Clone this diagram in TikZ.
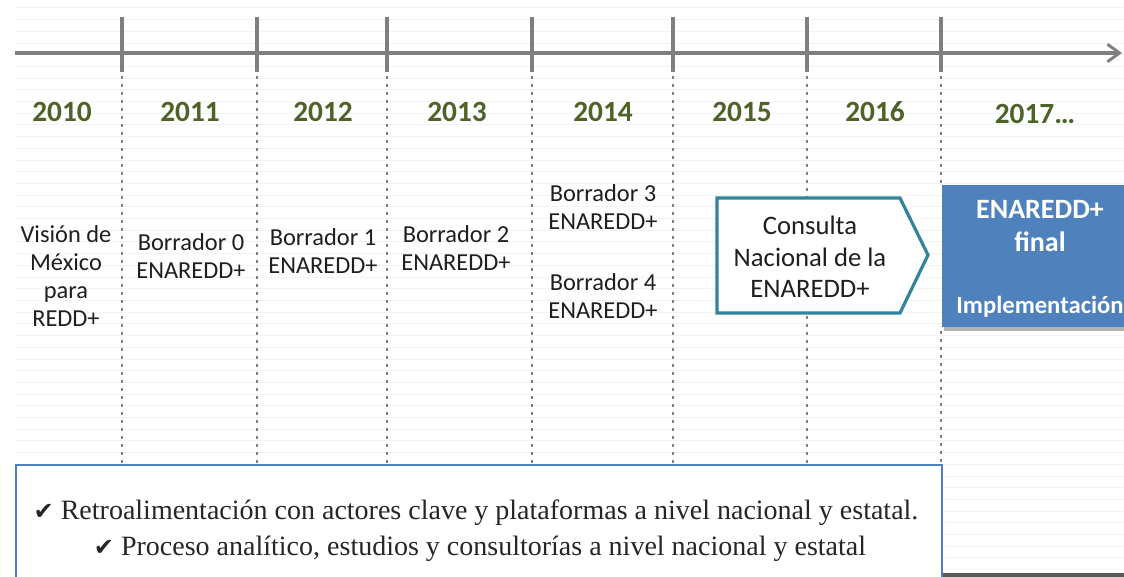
\documentclass[tikz,border=0pt]{standalone}
\usepackage{fontspec}
\setmainfont{Carlito}
\newfontfamily\serifbody{Liberation Serif}
\newfontfamily\symfont{DejaVu Sans}
\usetikzlibrary{arrows.meta}
\definecolor{axisgray}{HTML}{7F7F7F}
\definecolor{yeargreen}{HTML}{4F6228}
\definecolor{consteal}{HTML}{31849B}
\definecolor{boxblue}{HTML}{4F81BD}
\definecolor{bgline}{HTML}{F3F3F3}
\begin{document}
\begin{tikzpicture}[x=0.75pt,y=-0.75pt,
  bgrule/.style={bgline, line width=0.75pt},
  axisline/.style={axisgray, line width=2.4pt},
  dotline/.style={axisgray, line width=2.2pt, dash pattern=on 2.2pt off 3.8pt},
  year/.style={font=\fontsize{22}{26}\selectfont\bfseries, text=yeargreen, inner sep=0pt},
  lbl/.style={font=\fontsize{18.3}{21}\selectfont, align=center, text=black!88, inner sep=0pt},
  bluetxt/.style={font=\fontsize{21}{25}\selectfont\bfseries, text=white, inner sep=0pt},
  bottomtxt/.style={font=\serifbody\fontsize{21}{25}\selectfont, text=black!85, inner sep=0pt, anchor=base}
]
\useasboundingbox (0,0) rectangle (1124,577);
\clip (0,0) rectangle (1124,577);
\fill[white] (0,0) rectangle (1124,577);

% faint background rules
\foreach \i in {0,...,48}
  \draw[bgrule] (15,{8+\i*11.7}) -- (1124,{8+\i*11.7});

% axis
\coordinate (axL) at (15,53);
\coordinate (axR) at (1122,53);
\draw[axisline, -{Straight Barb[length=9pt,width=13pt,line width=2.2pt]}] (axL) -- (axR);

% ticks and dotted separators
\foreach \x in {122,257,387,532,673,807,941}
  \draw[axisline] (\x,17) -- (\x,72);
\foreach \x in {122,257,387,532,673,807}
  \draw[dotline] (\x,76) -- (\x,465);
\draw[dotline] (941,76) -- (941,185);
\draw[dotline] (941,331) -- (941,577);

% years
\node[year] (y2010) at (62,112) {2010};
\node[year] (y2011) at (190,112) {2011};
\node[year] (y2012) at (323,112) {2012};
\node[year] (y2013) at (457,112) {2013};
\node[year] (y2014) at (603,112) {2014};
\node[year] (y2015) at (742,112) {2015};
\node[year] (y2016) at (875,112) {2016};
\node[year] (y2017) at (1035,114) {2017…};

% labels
\node[lbl] (vision) at (66,276) {Visión de\\México\\para\\REDD+};
\node[lbl] (b0) at (191,256) {Borrador 0\\ENAREDD+};
\node[lbl] (b1) at (323,251) {Borrador 1\\ENAREDD+};
\node[lbl] (b2) at (456,248) {Borrador 2\\ENAREDD+};
\node[lbl] (b3) at (603,207) {Borrador 3\\ENAREDD+};
\node[lbl] (b4) at (603,296) {Borrador 4\\ENAREDD+};

% consulta pentagon
\draw[consteal, line width=2.4pt, fill=white, line join=miter]
  (717,198) -- (900,198) -- (928,255) -- (900,313) -- (717,313) -- cycle;
\node[font=\fontsize{20}{23.5}\selectfont, align=center, text=black!88, inner sep=0pt]
  (consulta) at (810,257) {Consulta\\Nacional de la\\ENAREDD+};

% final box
\fill[black!30] (944,188) rectangle (1140,331);
\fill[boxblue] (942,185) rectangle (1140,327);
\node[bluetxt] (fin1) at (1040,209) {ENAREDD+};
\node[bluetxt] (fin2) at (1040,242) {final};
\node[bluetxt, font=\fontsize{18.5}{22}\selectfont\bfseries] (impl) at (1040,307) {Implementación};

% bottom box
\draw[boxblue, line width=2pt, fill=white] (16,465) rectangle (942,595);
\fill[black!65] (943,573) rectangle (1124,577);
\node[bottomtxt] (t1) at (476,519) {{\symfont\fontsize{18}{20}\selectfont ✔}\ Retroalimentación con actores clave y plataformas a nivel nacional y estatal.};
\node[bottomtxt] (t2) at (480,555) {{\symfont\fontsize{18}{20}\selectfont ✔}\ Proceso analítico, estudios y consultorías a nivel nacional y estatal};
\end{tikzpicture}
\end{document}
